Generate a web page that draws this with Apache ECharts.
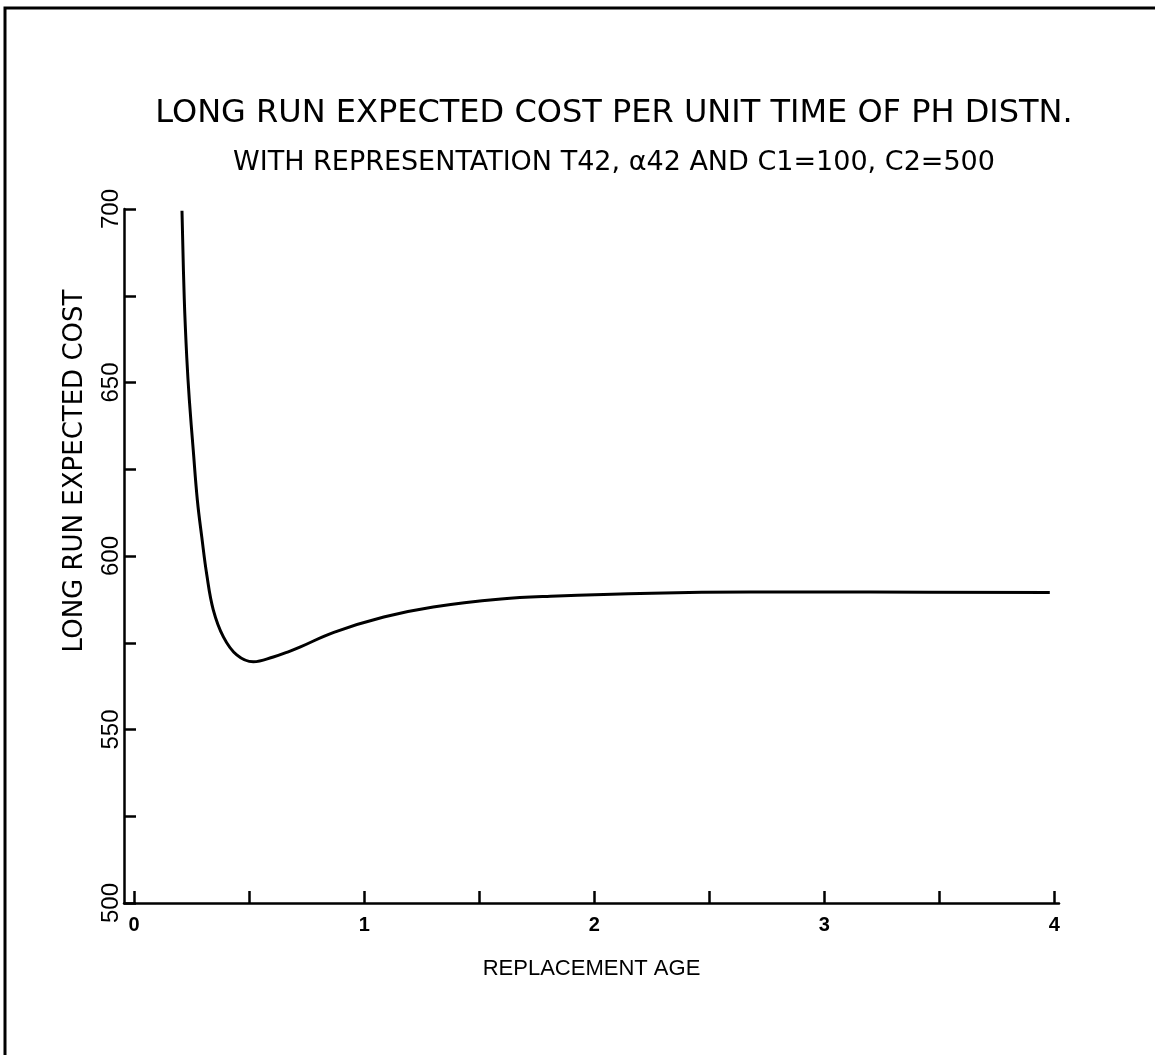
<!DOCTYPE html>
<html>
<head>
<meta charset="utf-8">
<title>Long run expected cost</title>
<script src="https://cdn.jsdelivr.net/npm/echarts@6/dist/echarts.min.js"></script>
<style>
	html, body { margin: 0; padding: 0; background: #fff; }
	#chart { width: 1155px; height: 1055px; }
</style>
</head>
<body>
<div id="chart"></div>
<script>
// replacement age (x) and long run expected cost (y)
var ages = [0.208, 0.218, 0.229, 0.240, 0.257, 0.275, 0.294, 0.316, 0.344, 0.388,
	0.446, 0.518, 0.605, 0.678, 0.723, 0.868, 1.085, 1.30, 1.595, 1.81,
	2.25, 2.68, 3.2, 3.98];
var costs = [699.5, 674, 657, 645, 630.5, 616, 605.5, 594.5, 584.5, 576.7,
	571.5, 569.5, 570.9, 572.6, 573.8, 578, 582.4, 585.3, 587.6, 588.4,
	589.3, 589.6, 589.6, 589.5];

var xTicks = [0, 0.5, 1, 1.5, 2, 2.5, 3, 3.5, 4];
var xLabels = [0, 1, 2, 3, 4];

var titleText = 'LONG RUN EXPECTED COST PER UNIT TIME OF PH DISTN.';
var subText = 'WITH REPRESENTATION T42, \u03b142 AND C1=100, C2=500';
var xName = 'REPLACEMENT AGE';
var yName = 'LONG RUN EXPECTED COST';

var font = 'DejaVu Sans';
var font2 = 'Liberation Sans';

var chart = echarts.init(document.getElementById('chart'));

var points = ages.map(function (a, i) {
	return [a, costs[i]];
});

var option = {
	backgroundColor: '#fff',
	animation: false,
	title: [
		{
			text: titleText,
			left: 609,
			top: 93,
			textAlign: 'center',
			textStyle: { fontFamily: font, fontSize: 32, fontWeight: 'normal', color: '#000' }
		},
		{
			text: subText,
			left: 609,
			top: 144,
			textAlign: 'center',
			textStyle: { fontFamily: font, fontSize: 27, fontWeight: 'normal', color: '#000' }
		}
	],
	grid: {
		left: 124,
		right: 96,
		top: 209,
		bottom: 152
	},
	xAxis: {
		type: 'value',
		min: -0.044,
		max: 4.02,
		name: xName,
		nameLocation: 'middle',
		nameGap: 55,
		nameTextStyle: { fontFamily: font2, fontSize: 22, color: '#000' },
		splitLine: { show: false },
		axisLine: { lineStyle: { color: '#000', width: 2.5 } },
		axisTick: {
			inside: true,
			length: 12,
			customValues: xTicks,
			lineStyle: { color: '#000', width: 2.5 }
		},
		axisLabel: {
			margin: 12,
			customValues: xLabels,
			fontFamily: font2,
			fontSize: 20,
			fontWeight: 'bold',
			color: '#000'
		}
	},
	yAxis: {
		type: 'value',
		min: 500,
		max: 700,
		interval: 25,
		splitLine: { show: false },
		axisLine: { onZero: false, lineStyle: { color: '#000', width: 2.5 } },
		axisTick: { inside: true, length: 12, lineStyle: { color: '#000', width: 2.5 } },
		axisLabel: {
			rotate: 90,
			margin: 1,
			fontFamily: font2,
			fontSize: 24,
			color: '#000',
			formatter: function (v) {
				return v % 50 === 0 ? String(v) : '';
			}
		}
	},
	graphic: [
		{
			type: 'text',
			x: 75,
			y: 471,
			rotation: Math.PI / 2,
			style: {
				text: yName,
				fontFamily: font,
				fontSize: 26,
				fill: '#000',
				textAlign: 'center',
				textVerticalAlign: 'middle'
			}
		},
		{
			// scan border, left and top
			type: 'polyline',
			shape: { points: [[5, 1055], [5, 8], [1155, 8]] },
			style: { stroke: '#000', lineWidth: 3, fill: null }
		}
	],
	series: [
		{
			type: 'line',
			data: points,
			smooth: 0.4,
			showSymbol: false,
			lineStyle: { color: '#000', width: 3 }
		}
	]
};

chart.setOption(option);
</script>
</body>
</html>
